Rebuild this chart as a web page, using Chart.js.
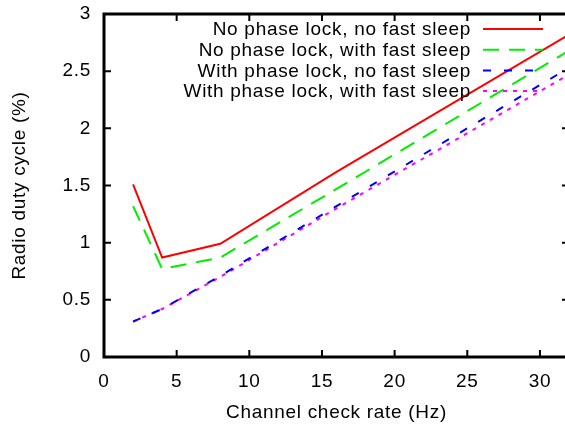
<!DOCTYPE html>
<html>
<head>
<meta charset="utf-8">
<script src="https://cdn.jsdelivr.net/npm/chart.js@4.4.1/dist/chart.umd.min.js"></script>
<style>
  html, body { margin: 0; padding: 0; background: #fff; overflow: hidden; }
  canvas { display: block; }
</style>
</head>
<body>
<canvas id="chart" width="569" height="424"></canvas>
<script>
// channel check rates (Hz)
const rates = [2, 4, 8, 16, 32];
const seriesNames = [
    'No phase lock, no fast sleep',
    'No phase lock, with fast sleep',
    'With phase lock, no fast sleep',
    'With phase lock, with fast sleep',
];
const noLockNoFast = [1.51, 0.87, 0.99, 1.62, 2.82];
const noLockFast = [1.32, 0.77, 0.87, 1.47, 2.68];
const lockNoFast = [0.31, 0.42, 0.71, 1.32, 2.53];
const lockFast = [0.31, 0.42, 0.7, 1.3, 2.47];
const xTicks = [0, 5, 10, 15, 20, 25, 30];
const yTicks = [0, 0.5, 1, 1.5, 2, 2.5, 3];

const font = 'Liberation Sans, Arial, sans-serif';
const fontSize = 19;
const styles = [
    { color: '#ff0000', dash: [] },
    { color: '#00ee00', dash: [16, 10] },
    { color: '#0000ff', dash: [8, 13] },
    { color: '#ff00ff', dash: [4, 6] },
];
const values = [noLockNoFast, noLockFast, lockNoFast, lockFast];

// gnuplot-like frame with inward ticks on all four sides, plus key
const framePlugin = {
    id: 'frame',
    beforeDraw(chart) {
        chart.ctx.letterSpacing = '0.7px';
    },
    afterDraw(chart) {
        const ctx = chart.ctx;
        const a = chart.chartArea;
        const xs = chart.scales.x, ys = chart.scales.y;
        ctx.save();
        ctx.strokeStyle = '#000';
        ctx.lineWidth = 2;
        xTicks.forEach(v => {
            const px = xs.getPixelForValue(v);
            ctx.beginPath();
            ctx.moveTo(px, a.bottom); ctx.lineTo(px, a.bottom - 7);
            ctx.moveTo(px, a.top); ctx.lineTo(px, a.top + 7);
            ctx.stroke();
        });
        yTicks.forEach(v => {
            const py = ys.getPixelForValue(v);
            ctx.beginPath();
            ctx.moveTo(a.left, py); ctx.lineTo(a.left + 7, py);
            ctx.moveTo(a.right, py); ctx.lineTo(a.right - 7, py);
            ctx.stroke();
        });
        ctx.lineWidth = 3;
        ctx.strokeRect(a.left, a.top, a.right - a.left, a.bottom - a.top);

        // key
        ctx.font = fontSize + 'px ' + font;
        ctx.textAlign = 'right';
        ctx.textBaseline = 'middle';
        chart.data.datasets.forEach((ds, i) => {
            const y = 29 + i * 20.7;
            ctx.fillStyle = '#000';
            ctx.fillText(ds.label, 471, y + 1);
            ctx.strokeStyle = ds.borderColor;
            ctx.lineWidth = 2;
            ctx.setLineDash(ds.borderDash);
            ctx.beginPath();
            ctx.moveTo(483, y); ctx.lineTo(543, y);
            ctx.stroke();
            ctx.setLineDash([]);
        });
        ctx.restore();
    }
};

new Chart(document.getElementById('chart'), {
    type: 'line',
    data: {
        datasets: values.map((vals, i) => ({
            label: seriesNames[i],
            data: rates.map((r, j) => ({ x: r, y: vals[j] })),
            borderColor: styles[i].color,
            borderDash: styles[i].dash,
            borderWidth: 2,
            pointRadius: 0,
            fill: false,
            tension: 0,
        })),
    },
    options: {
        responsive: false,
        animation: false,
        layout: { padding: { top: 14, right: 0, left: 0, bottom: 0 } },
        plugins: {
            legend: { display: false },
            tooltip: { enabled: false },
        },
        scales: {
            x: {
                type: 'linear',
                min: 0,
                max: 32,
                afterBuildTicks: (scale) => {
                    scale.ticks = xTicks.map(v => ({ value: v }));
                },
                afterFit: (scale) => {
                    scale.height = 67;
                    scale.paddingLeft = 0;
                    scale.paddingRight = 0;
                },
                grid: { display: false, drawTicks: false },
                border: { display: false },
                ticks: {
                    color: '#000',
                    padding: 13,
                    maxRotation: 0,
                    font: { family: font, size: fontSize },
                },
                title: {
                    display: true,
                    text: 'Channel check rate (Hz)',
                    color: '#000',
                    font: { family: font, size: fontSize },
                    padding: { top: 0, bottom: 0 },
                },
            },
            y: {
                min: 0,
                max: 3,
                afterBuildTicks: (scale) => {
                    scale.ticks = yTicks.map(v => ({ value: v }));
                },
                afterFit: (scale) => {
                    scale.width = 104;
                    scale.paddingTop = 0;
                    scale.paddingBottom = 0;
                },
                grid: { display: false, drawTicks: false },
                border: { display: false },
                ticks: {
                    color: '#000',
                    padding: 13,
                    font: { family: font, size: fontSize },
                    callback: (v) => String(v),
                },
                title: {
                    display: true,
                    text: 'Radio duty cycle (%)',
                    color: '#000',
                    font: { family: font, size: fontSize },
                    padding: { top: 8, bottom: 0 },
                },
            },
        },
    },
    plugins: [framePlugin],
});
</script>
</body>
</html>
